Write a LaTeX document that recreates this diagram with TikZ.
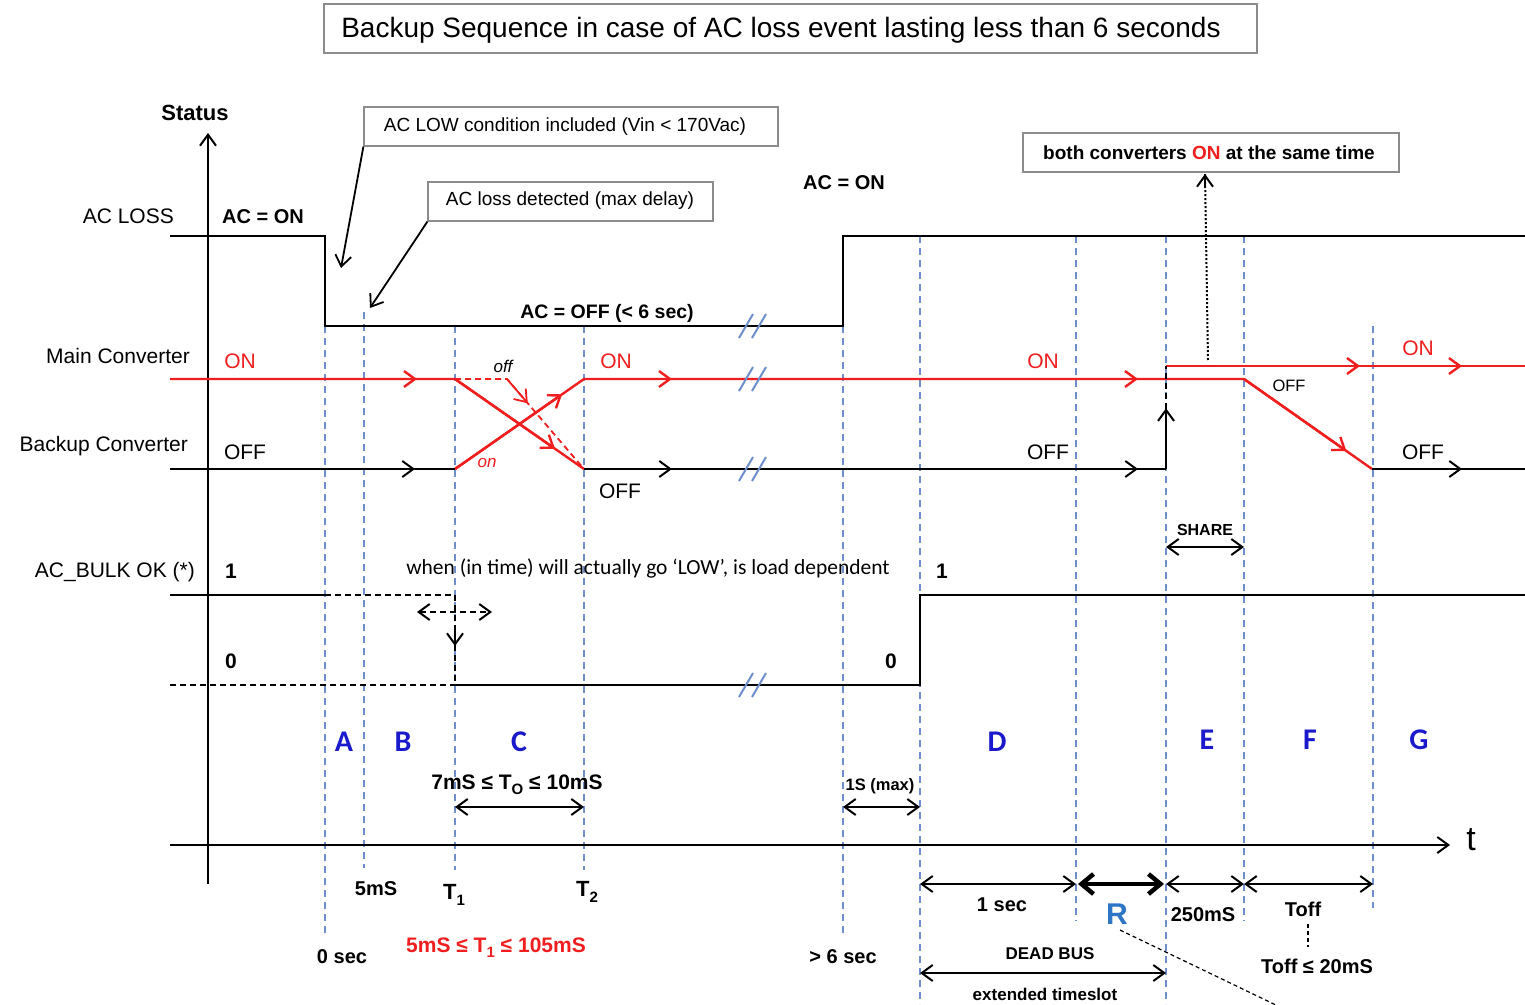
\documentclass[tikz,border=0pt]{standalone}
\usepackage{fontspec}
\setmainfont{Liberation Sans}
\newfontfamily\calfont{Carlito}
\usetikzlibrary{arrows.meta,calc}
\definecolor{myred}{HTML}{F01E1E}
\definecolor{vblue}{HTML}{6E8ECC}
\definecolor{lblue}{HTML}{1A1ACC}
\definecolor{rblue}{HTML}{2E75C6}
\definecolor{boxgray}{HTML}{8C8C8C}
\newcommand\fs[1]{\fontsize{#1}{#1}\selectfont}
\newcommand\mysub[1]{\raisebox{-0.45ex}{\fs{15}#1}}
\begin{document}
\begin{tikzpicture}[x=1pt,y=-1pt,
  bsig/.style={line width=2pt,black},
  rsig/.style={line width=2.4pt,myred},
  vdash/.style={vblue,line width=1.8pt,dash pattern=on 7pt off 5pt},
  kdash/.style={dash pattern=on 6pt off 4pt},
  brk/.style={vblue,line width=2pt},
  barb/.style={-{Straight Barb[length=11pt,width=16pt]}},
  dbarb/.style={{Straight Barb[length=11pt,width=16pt]}-{Straight Barb[length=11pt,width=16pt]}},
  tbarb/.style={{Straight Barb[length=12pt,width=20pt]}-{Straight Barb[length=12pt,width=20pt]}},
  lbl/.style={inner sep=0pt,font=\fs{21}},
  blbl/.style={inner sep=0pt,font=\fs{20}\bfseries},
  callbox/.style={draw=boxgray,line width=1.2pt,inner sep=0pt,minimum height=39pt},
  letter/.style={inner sep=0pt,text=lblue,font=\calfont\fs{30}\bfseries},
]
\useasboundingbox (0,0) rectangle (1525,1004);
\fill[white] (0,0) rectangle (1525,1004);

% title
\node[draw=boxgray,line width=1.2pt,minimum width=933pt,minimum height=49pt,inner sep=0pt] (titlebox) at (790.5,28.5) {};
\node[inner sep=0pt,font=\fs{28}] (title) at (781,30) {Backup Sequence in case of AC loss event lasting less than 6 seconds};

% callout boxes
\node[callbox,minimum width=414pt] (lowbox) at (571,126.5) {};
\node[inner sep=0pt,font=\fs{19}] (lowtxt) at (565,127) {AC LOW condition included (Vin < 170Vac)};
\node[callbox,minimum width=285pt] (lossbox) at (570.5,201.5) {};
\node[inner sep=0pt,font=\fs{19}] (losstxt) at (570,201) {AC loss detected (max delay)};
\node[callbox,minimum width=376pt] (bothbox) at (1211,152.5) {};
\node[inner sep=0pt,font=\fs{19}\bfseries] (bothtxt) at (1209,153) {both converters \textcolor{myred}{ON} at the same time};

% vertical dashed time markers
\foreach \x/\a/\b in {325/326/935, 364/312/868, 455/326/870, 584/326/870, 843/326/935, 920/236/1004, 1076/236/921, 1166/236/1004, 1244/236/921, 1373/326/908}
  \draw[vdash] (\x,\a) -- (\x,\b);

% axes
\draw[line width=2pt,barb] (208,884) -- (208,133);
\draw[line width=2pt,barb] (170,845) -- (1450,845);
\node[inner sep=0pt,font=\fs{34}] (tlbl) at (1471,840) {t};
\node[inner sep=0pt,font=\fs{22}\bfseries] (status) at (195,113) {Status};

% row labels
\node[lbl,anchor=east] (acloss) at (174,216) {AC LOSS};
\node[lbl,anchor=east] (mainc) at (190,356) {Main Converter};
\node[lbl,anchor=east] (backc) at (188,446) {Backup Converter};
\node[lbl,anchor=east] (bulk) at (195,572) {AC\_BULK OK (*)};

% AC LOSS signal
\draw[bsig] (170,236) -- (325,236) -- (325,326) -- (843,326) -- (843,236) -- (1525,236);
\node[blbl] (acon1) at (263,217) {AC = ON};
\node[blbl] (acon2) at (844,183) {AC = ON};
\node[blbl,font=\fs{19.5}\bfseries] (acoff) at (607,313) {AC = OFF (< 6 sec)};

% callout pointers
\coordinate (lowtip) at (341,268);
\coordinate (losstip) at (370,308);
\draw[line width=1.8pt,barb] (lowbox.south west) -- (lowtip);
\draw[line width=1.8pt,barb] (lossbox.south west) -- (losstip);

% Main converter
\coordinate (m0) at (170,379);
\coordinate (m1) at (455,379);
\coordinate (m2) at (584,469);
\coordinate (m3) at (455,469);
\coordinate (m4) at (584,379);
\coordinate (m5) at (1244,379);
\coordinate (m6) at (1372,469);
\coordinate (md) at (507,379);
\draw[rsig] (m0) -- (m1) -- (m2);
\draw[rsig] (m3) -- (m4) -- (m5) -- (m6);
\draw[rsig,line width=1.8pt,kdash] (m1) -- (md) -- (m2);
\draw[rsig,barb] (m1) -- ($(m1)!0.775!(m2)$);
\draw[rsig,barb] (m3) -- ($(m3)!0.83!(m4)$);
\draw[rsig,line width=1.8pt,barb] (md) -- ($(md)!0.27!(m2)$);
\draw[rsig,barb] (m5) -- ($(m5)!0.8!(m6)$);
\draw[rsig] (1166,366) -- (1525,366);
\foreach \x in {417,672,1138} \draw[rsig,barb] (\x-20,379) -- (\x,379);
\foreach \x in {1360,1462} \draw[rsig,barb] (\x-20,366) -- (\x,366);

% Backup converter
\draw[bsig] (170,469) -- (455,469);
\draw[bsig] (584,469) -- (1166,469);
\draw[bsig] (1372,469) -- (1525,469);
\coordinate (b1) at (1166,469);
\coordinate (b2) at (1166,366);
\draw[bsig,kdash] (b1) -- (b2);
\draw[bsig,barb] (b1) -- ($(b1)!0.59!(b2)$);
\foreach \x in {415,672,1138,1462} \draw[bsig,barb] (\x-20,469) -- (\x,469);

% state labels
\node[lbl,text=myred] (on1) at (240,361) {ON};
\node[lbl,text=myred] (on2) at (616,361) {ON};
\node[lbl,text=myred] (on3) at (1043,361) {ON};
\node[lbl,text=myred] (on4) at (1418,348) {ON};
\node[lbl] (off1) at (245,452) {OFF};
\node[lbl] (off2) at (620,491) {OFF};
\node[lbl] (off3) at (1048,452) {OFF};
\node[lbl] (off4) at (1423,452) {OFF};
\node[lbl,font=\fs{16.5}] (off5) at (1289,386) {OFF};
\node[lbl,font=\fs{17}\itshape] (offi) at (503,366) {off};
\node[lbl,font=\fs{17}\itshape,text=myred] (oni) at (487,463) {on};

% AC_BULK OK
\draw[bsig] (170,595) -- (325,595);
\draw[bsig,kdash] (325,595) -- (455,595);
\draw[bsig,kdash] (170,685) -- (455,685);
\draw[bsig] (455,685) -- (920,685) -- (920,595) -- (1525,595);
\coordinate (k1) at (455,595);
\coordinate (k2) at (455,646);
\coordinate (k3) at (455,685);
\draw[bsig,kdash] (k1) -- (k3);
\draw[bsig,barb] ($(k2)+(0,-15)$) -- (k2);
\coordinate (h1) at (417,612);
\coordinate (h2) at (492,612);
\draw[bsig,kdash,dbarb] (h1) -- (h2);
\node[blbl,font=\fs{21}\bfseries] (one1) at (231,571) {1};
\node[blbl,font=\fs{21}\bfseries] (zero1) at (231,661) {0};
\node[blbl,font=\fs{21}\bfseries] (one2) at (942,571) {1};
\node[blbl,font=\fs{21}\bfseries] (zero2) at (891,661) {0};
\node[inner sep=0pt,font=\calfont\fs{21.5}] (when) at (648,568) {when (in time) will actually go ‘LOW’, is load dependent};

% break marks
\foreach \y in {326,379,469,685} {
  \draw[brk] (739,\y+12) -- (753,\y-12);
  \draw[brk] (752,\y+12) -- (766,\y-12);
}

% both converters pointer
\coordinate (dstart) at (1208,360);
\coordinate (dtip) at (1205,174);
\draw[line width=2pt,dotted] (dstart) -- (dtip);
\draw[line width=2pt,barb] ($(dtip)+(0,12)$) -- (dtip);

% region letters
\node[letter] (lA) at (344,742) {A};
\node[letter] (lB) at (403,742) {B};
\node[letter] (lC) at (519,742) {C};
\node[letter] (lD) at (997,742) {D};
\node[letter] (lE) at (1207,740) {E};
\node[letter] (lF) at (1310,740) {F};
\node[letter] (lG) at (1419,740) {G};

% interval arrows
\draw[line width=2pt,dbarb] (455,807) -- (584,807);
\draw[line width=2pt,dbarb] (843,807) -- (920,807);
\draw[line width=2pt,dbarb] (920,884) -- (1076,884);
\draw[line width=4.5pt,tbarb] (1078,884) -- (1164,884);
\draw[line width=2pt,dbarb] (1166,884) -- (1244,884);
\draw[line width=2pt,dbarb] (1244,884) -- (1373,884);
\draw[line width=2pt,dbarb] (920,973) -- (1166,973);
\draw[line width=2pt,dbarb] (1166,547) -- (1244,547);

% time labels
\node[blbl,font=\fs{21}\bfseries] (to) at (517,785) {7mS ≤ T\mysub{O} ≤ 10mS};
\node[blbl,font=\fs{16.5}\bfseries] (onesmax) at (880,786) {1S (max)};
\node[blbl] (fivems) at (376,889) {5mS};
\node[blbl,font=\fs{22}\bfseries] (t1) at (454,895) {T\mysub{1}};
\node[blbl,font=\fs{22}\bfseries] (t2) at (587,892) {T\mysub{2}};
\node[blbl] (zerosec) at (342,957) {0 sec};
\node[blbl,font=\fs{21}\bfseries,text=myred] (t1range) at (496,948) {5mS ≤ T\mysub{1} ≤ 105mS};
\node[blbl] (sixsec) at (843,957) {> 6 sec};
\node[blbl] (onesec) at (1002,905) {1 sec};
\node[inner sep=0pt,text=rblue,font=\fs{30}\bfseries] (R) at (1117,914) {R};
\node[blbl] (ms250) at (1203,915) {250mS};
\node[blbl] (toff) at (1303,909) {Toff};
\node[blbl] (toffr) at (1317,966) {Toff ≤ 20mS};
\node[blbl,font=\fs{17}\bfseries] (dead) at (1050,954) {DEAD BUS};
\node[blbl,font=\fs{17}\bfseries] (ext) at (1045,994) {extended timeslot};
\node[blbl,font=\fs{16}\bfseries] (share) at (1205,530) {SHARE};

% R pointer and Toff tick
\coordinate (rend) at (1278,1006);
\draw[line width=1.2pt,dash pattern=on 4pt off 3pt] (1120,930) -- (rend);
\draw[line width=1.5pt,dash pattern=on 4pt off 3pt] (1308,924) -- (1308,947);
\end{tikzpicture}
\end{document}
